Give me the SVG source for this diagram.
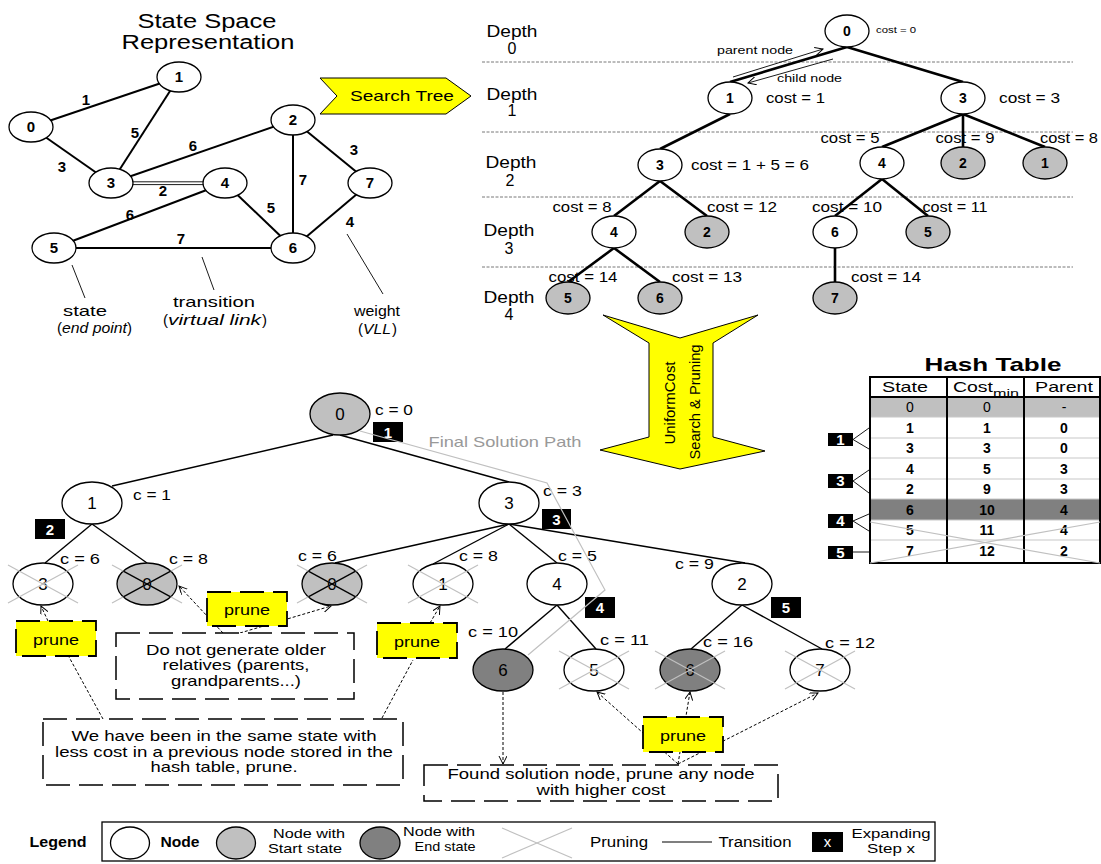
<svg xmlns="http://www.w3.org/2000/svg" width="1101" height="864" viewBox="0 0 1101 864">
<style>
text{font-family:"Liberation Sans",Arial,Helvetica,sans-serif;fill:#000}
.b{font-weight:bold}
.m{text-anchor:middle}
.i{font-style:italic}
.nw{fill:#fff;stroke:#000;stroke-width:1.3}
.ng{fill:#c0c0c0;stroke:#000;stroke-width:1.3}
.nd{fill:#808080;stroke:#000;stroke-width:1.3}
.e1{stroke:#000;stroke-width:2;fill:none}
.e2{stroke:#000;stroke-width:2.6;fill:none}
.e3{stroke:#000;stroke-width:1.4;fill:none}
.th{stroke:#000;stroke-width:0.9;fill:none}
.hd{stroke:#555;stroke-width:0.8;stroke-dasharray:3,1.5}
.box{fill:#fff;stroke:#000;stroke-width:1.5;stroke-dasharray:24,9}
.prune{fill:#ffff00;stroke:#000;stroke-width:1.8;stroke-dasharray:24,9}
.x{stroke:#c0c0c0;stroke-width:1.2}
.xk{stroke:#000;stroke-width:1.3}
.stxt{fill:#fff;font-weight:bold;font-size:15px;text-anchor:middle}
.dl{stroke:#000;stroke-width:1;stroke-dasharray:3,2;fill:none}
.yel{fill:#ffff00;stroke:#000;stroke-width:1}
</style>
<defs>
<marker id="oa" markerWidth="10" markerHeight="10" refX="8" refY="4" orient="auto" markerUnits="userSpaceOnUse">
<path d="M0,0 L8,4 L0,8" fill="none" stroke="#000" stroke-width="1"/>
</marker>
</defs>

<!-- ===== State space representation ===== -->
<text x="207" y="28" class="m" font-size="20" textLength="139" lengthAdjust="spacingAndGlyphs">State Space</text>
<text x="208" y="49" class="m" font-size="20" textLength="173" lengthAdjust="spacingAndGlyphs">Representation</text>

<g id="ss-edges">
<line x1="31" y1="127" x2="179" y2="77" class="e1"/>
<line x1="179" y1="77" x2="111" y2="183" class="e1"/>
<line x1="31" y1="127" x2="111" y2="183" class="e1"/>
<line x1="111" y1="183" x2="293" y2="120" class="e1"/>
<line x1="111" y1="181.8" x2="225" y2="181.8" class="th" stroke-width="1.3"/>
<line x1="111" y1="184.6" x2="225" y2="184.6" class="th" stroke-width="1.3"/>
<line x1="54" y1="248" x2="225" y2="183" class="e1"/>
<line x1="225" y1="183" x2="293" y2="248" class="e1"/>
<line x1="293" y1="120" x2="293" y2="248" class="e1"/>
<line x1="293" y1="120" x2="370" y2="183" class="e1"/>
<line x1="370" y1="183" x2="293" y2="248" class="e1"/>
<line x1="54" y1="248" x2="293" y2="248" class="e1"/>
<line x1="72" y1="265" x2="85" y2="298" class="th"/>
<line x1="202" y1="257" x2="214" y2="290" class="th"/>
<line x1="347" y1="234" x2="383" y2="294" class="th"/>
</g>
<g id="ss-weights" font-size="15">
<text x="86" y="105" class="m b">1</text>
<text x="135" y="138" class="m b">5</text>
<text x="62" y="172" class="m b">3</text>
<text x="193" y="151" class="m b">6</text>
<text x="163" y="196" class="m b">2</text>
<text x="130" y="220" class="m b">6</text>
<text x="271" y="213" class="m b">5</text>
<text x="303" y="185" class="m b">7</text>
<text x="354" y="155" class="m b">3</text>
<text x="350" y="227" class="m b">4</text>
<text x="181" y="244" class="m b">7</text>
</g>
<g id="ss-n0"><ellipse cx="31" cy="127" rx="22" ry="15" class="nw"/><text x="31" y="132" class="m b" font-size="15">0</text></g>
<g id="ss-n1"><ellipse cx="179" cy="77" rx="22" ry="15" class="nw"/><text x="179" y="82" class="m b" font-size="15">1</text></g>
<g id="ss-n2"><ellipse cx="293" cy="120" rx="22" ry="15" class="nw"/><text x="293" y="125" class="m b" font-size="15">2</text></g>
<g id="ss-n3"><ellipse cx="111" cy="183" rx="22" ry="15" class="nw"/><text x="111" y="188" class="m b" font-size="15">3</text></g>
<g id="ss-n4"><ellipse cx="225" cy="183" rx="22" ry="15" class="nw"/><text x="225" y="188" class="m b" font-size="15">4</text></g>
<g id="ss-n5"><ellipse cx="54" cy="248" rx="22" ry="15" class="nw"/><text x="54" y="253" class="m b" font-size="15">5</text></g>
<g id="ss-n6"><ellipse cx="293" cy="248" rx="22" ry="15" class="nw"/><text x="293" y="253" class="m b" font-size="15">6</text></g>
<g id="ss-n7"><ellipse cx="370" cy="183" rx="22" ry="15" class="nw"/><text x="370" y="188" class="m b" font-size="15">7</text></g>
<g id="ss-notes" font-size="15">
<text x="85" y="316" class="m" textLength="44" lengthAdjust="spacingAndGlyphs">state</text>
<text x="57" y="333">(</text><text x="62" y="333" class="i" textLength="65" lengthAdjust="spacingAndGlyphs">end point</text><text x="127" y="333">)</text>
<text x="214" y="307" class="m" textLength="82" lengthAdjust="spacingAndGlyphs">transition</text>
<text x="163" y="325">(</text><text x="168" y="325" class="i" textLength="93" lengthAdjust="spacingAndGlyphs">virtual link</text><text x="262" y="325">)</text>
<text x="377" y="316" class="m" textLength="46" lengthAdjust="spacingAndGlyphs">weight</text>
<text x="358" y="334">(</text><text x="363" y="334" class="i" textLength="28" lengthAdjust="spacingAndGlyphs">VLL</text><text x="392" y="334">)</text>
</g>

<!-- Search tree arrow -->
<g id="arrow-search">
<polygon points="320,78 446,78 471,96 446,114 320,114 337,96" class="yel"/>
<text x="402" y="101" class="m" font-size="15" textLength="104" lengthAdjust="spacingAndGlyphs">Search Tree</text>
</g>

<!-- ===== Search tree ===== -->
<g id="depth-lines">
<line x1="482" y1="62" x2="1073" y2="62" class="hd"/>
<line x1="482" y1="132" x2="1073" y2="132" class="hd"/>
<line x1="482" y1="197" x2="1073" y2="197" class="hd"/>
<line x1="482" y1="267" x2="1073" y2="267" class="hd"/>
</g>
<g id="depth-labels" font-size="16">
<text x="512" y="37" class="m" textLength="51" lengthAdjust="spacingAndGlyphs">Depth</text><text x="512" y="54" class="m">0</text>
<text x="512" y="100" class="m" textLength="51" lengthAdjust="spacingAndGlyphs">Depth</text><text x="512" y="116" class="m">1</text>
<text x="511" y="168" class="m" textLength="51" lengthAdjust="spacingAndGlyphs">Depth</text><text x="510" y="186" class="m">2</text>
<text x="509" y="236" class="m" textLength="51" lengthAdjust="spacingAndGlyphs">Depth</text><text x="509" y="254" class="m">3</text>
<text x="509" y="303" class="m" textLength="51" lengthAdjust="spacingAndGlyphs">Depth</text><text x="509" y="320" class="m">4</text>
</g>
<g id="tree-edges">
<line x1="847" y1="47" x2="730" y2="82" class="e2"/>
<line x1="847" y1="47" x2="963" y2="82" class="e2"/>
<line x1="730" y1="114" x2="660" y2="149" class="e2"/>
<line x1="963" y1="114" x2="882" y2="147" class="e2"/>
<line x1="963" y1="114" x2="963" y2="147" class="e2"/>
<line x1="963" y1="114" x2="1045" y2="147" class="e2"/>
<line x1="660" y1="181" x2="614" y2="216" class="e2"/>
<line x1="660" y1="181" x2="707" y2="216" class="e2"/>
<line x1="882" y1="179" x2="835" y2="216" class="e2"/>
<line x1="882" y1="179" x2="928" y2="216" class="e2"/>
<line x1="614" y1="248" x2="568" y2="282" class="e2"/>
<line x1="614" y1="248" x2="660" y2="282" class="e2"/>
<line x1="835" y1="248" x2="835" y2="282" class="e2"/>
<line x1="733" y1="77" x2="823" y2="49" class="th" marker-end="url(#oa)"/>
<line x1="833" y1="59" x2="748" y2="83" class="th" marker-end="url(#oa)"/>
</g>
<text x="717" y="54" font-size="11" textLength="76" lengthAdjust="spacingAndGlyphs">parent node</text>
<text x="777" y="82" font-size="11" textLength="65" lengthAdjust="spacingAndGlyphs">child node</text>

<g id="t-n0"><ellipse cx="847" cy="31" rx="22" ry="16" class="nw"/><text x="847" y="36" class="m b" font-size="14">0</text><text x="876" y="33" font-size="9" textLength="40" lengthAdjust="spacingAndGlyphs">cost = 0</text></g>
<g id="t-n1"><ellipse cx="730" cy="98" rx="22" ry="16" class="nw"/><text x="730" y="103" class="m b" font-size="14">1</text><text x="766" y="103" font-size="14" textLength="59" lengthAdjust="spacingAndGlyphs">cost = 1</text></g>
<g id="t-n3a"><ellipse cx="963" cy="98" rx="22" ry="16" class="nw"/><text x="963" y="103" class="m b" font-size="14">3</text><text x="999" y="103" font-size="14" textLength="61" lengthAdjust="spacingAndGlyphs">cost = 3</text></g>
<g id="t-n3b"><ellipse cx="660" cy="165" rx="22" ry="16" class="nw"/><text x="660" y="170" class="m b" font-size="14">3</text><text x="691" y="170" font-size="14" textLength="118" lengthAdjust="spacingAndGlyphs">cost = 1 + 5 = 6</text></g>
<g id="t-n4a"><ellipse cx="882" cy="163" rx="22" ry="16" class="nw"/><text x="882" y="168" class="m b" font-size="14">4</text><text x="850" y="143" class="m" font-size="14" textLength="59" lengthAdjust="spacingAndGlyphs">cost = 5</text></g>
<g id="t-n2a"><ellipse cx="963" cy="163" rx="22" ry="16" class="ng"/><text x="963" y="168" class="m b" font-size="14">2</text><text x="965" y="143" class="m" font-size="14" textLength="59" lengthAdjust="spacingAndGlyphs">cost = 9</text></g>
<g id="t-n1a"><ellipse cx="1045" cy="163" rx="22" ry="16" class="ng"/><text x="1045" y="168" class="m b" font-size="14">1</text><text x="1069" y="143" class="m" font-size="14" textLength="58" lengthAdjust="spacingAndGlyphs">cost = 8</text></g>
<g id="t-n4b"><ellipse cx="614" cy="232" rx="22" ry="16" class="nw"/><text x="614" y="237" class="m b" font-size="14">4</text><text x="582" y="212" class="m" font-size="14" textLength="59" lengthAdjust="spacingAndGlyphs">cost = 8</text></g>
<g id="t-n2b"><ellipse cx="707" cy="232" rx="22" ry="16" class="ng"/><text x="707" y="237" class="m b" font-size="14">2</text><text x="742" y="212" class="m" font-size="14" textLength="70" lengthAdjust="spacingAndGlyphs">cost = 12</text></g>
<g id="t-n6a"><ellipse cx="835" cy="232" rx="22" ry="16" class="nw"/><text x="835" y="237" class="m b" font-size="14">6</text><text x="847" y="212" class="m" font-size="14" textLength="70" lengthAdjust="spacingAndGlyphs">cost = 10</text></g>
<g id="t-n5a"><ellipse cx="928" cy="232" rx="22" ry="16" class="ng"/><text x="928" y="237" class="m b" font-size="14">5</text><text x="955" y="212" class="m" font-size="14" textLength="65" lengthAdjust="spacingAndGlyphs">cost = 11</text></g>
<g id="t-n5b"><ellipse cx="568" cy="298" rx="22" ry="16" class="ng"/><text x="568" y="303" class="m b" font-size="14">5</text><text x="583" y="282" class="m" font-size="14" textLength="69" lengthAdjust="spacingAndGlyphs">cost = 14</text></g>
<g id="t-n6b"><ellipse cx="660" cy="298" rx="22" ry="16" class="ng"/><text x="660" y="303" class="m b" font-size="14">6</text><text x="707" y="282" class="m" font-size="14" textLength="70" lengthAdjust="spacingAndGlyphs">cost = 13</text></g>
<g id="t-n7"><ellipse cx="835" cy="298" rx="22" ry="16" class="ng"/><text x="835" y="303" class="m b" font-size="14">7</text><text x="886" y="282" class="m" font-size="14" textLength="70" lengthAdjust="spacingAndGlyphs">cost = 14</text></g>

<!-- Big down arrow -->
<g id="arrow-ucs">
<polygon points="603,315 680,338 758,315 713,343 713,437 765,451 680,469 600,450 649,437 649,343" class="yel"/>
<text transform="translate(675,403) rotate(-90)" class="m" font-size="14" textLength="83" lengthAdjust="spacingAndGlyphs">UniformCost</text>
<text transform="translate(700,402) rotate(-90)" class="m" font-size="14" textLength="115" lengthAdjust="spacingAndGlyphs">Search &amp; Pruning</text>
</g>

<!-- ===== Hash table ===== -->
<g id="hash-table">
<text x="993" y="371" class="m b" font-size="19" textLength="137" lengthAdjust="spacingAndGlyphs">Hash Table</text>
<rect x="870" y="397" width="230" height="20" fill="#c0c0c0"/>
<rect x="870" y="499" width="230" height="21" fill="#808080"/>
<g stroke="#c8c8c8" stroke-width="1.2">
<line x1="870" y1="417" x2="1100" y2="417"/>
<line x1="870" y1="438" x2="1100" y2="438"/>
<line x1="870" y1="458" x2="1100" y2="458"/>
<line x1="870" y1="479" x2="1100" y2="479"/>
<line x1="870" y1="499" x2="1100" y2="499"/>
<line x1="870" y1="520" x2="1100" y2="520"/>
<line x1="870" y1="540" x2="1100" y2="540"/>
</g>
<line x1="870" y1="397" x2="1100" y2="397" stroke="#000" stroke-width="2"/>
<line x1="947" y1="377" x2="947" y2="563" stroke="#000" stroke-width="2"/>
<line x1="1024" y1="377" x2="1024" y2="563" stroke="#000" stroke-width="2"/>
<rect x="870" y="377" width="230" height="186" fill="none" stroke="#000" stroke-width="2"/>
<text x="905" y="392" class="m" font-size="15" textLength="46" lengthAdjust="spacingAndGlyphs">State</text>
<text x="953" y="392" font-size="15" textLength="40" lengthAdjust="spacingAndGlyphs">Cost</text><text x="993" y="397" font-size="11" textLength="26" lengthAdjust="spacingAndGlyphs">min</text>
<text x="1064" y="392" class="m" font-size="15" textLength="58" lengthAdjust="spacingAndGlyphs">Parent</text>
<g font-size="14">
<text x="910" y="412" class="m">0</text><text x="987" y="412" class="m">0</text><text x="1064" y="412" class="m">-</text>
</g>
<g font-size="14">
<text x="910" y="433" class="m b">1</text><text x="987" y="433" class="m b">1</text><text x="1064" y="433" class="m b">0</text>
<text x="910" y="453" class="m b">3</text><text x="987" y="453" class="m b">3</text><text x="1064" y="453" class="m b">0</text>
<text x="910" y="474" class="m b">4</text><text x="987" y="474" class="m b">5</text><text x="1064" y="474" class="m b">3</text>
<text x="910" y="494" class="m b">2</text><text x="987" y="494" class="m b">9</text><text x="1064" y="494" class="m b">3</text>
<text x="910" y="515" class="m b">6</text><text x="987" y="515" class="m b">10</text><text x="1064" y="515" class="m b">4</text>
<text x="910" y="535" class="m b">5</text><text x="987" y="535" class="m b">11</text><text x="1064" y="535" class="m b">4</text>
<text x="910" y="556" class="m b">7</text><text x="987" y="556" class="m b">12</text><text x="1064" y="556" class="m b">2</text>
</g>
<line x1="870" y1="522" x2="1100" y2="563" class="x"/>
<line x1="870" y1="563" x2="1100" y2="522" class="x"/>
</g>
<g id="hash-steps">
<rect x="828" y="433" width="25" height="13"/><text x="840.5" y="445" class="stxt" font-size="13">1</text>
<polyline points="869,428 853,439.5 869,449" class="th" stroke-width="1.2"/>
<rect x="828" y="474" width="25" height="14"/><text x="840.5" y="486" class="stxt" font-size="13">3</text>
<polyline points="869,470 853,481 869,493" class="th" stroke-width="1.2"/>
<rect x="828" y="514" width="25" height="14"/><text x="840.5" y="526" class="stxt" font-size="13">4</text>
<polyline points="869,514 853,521 869,531" class="th" stroke-width="1.2"/>
<rect x="828" y="546" width="25" height="13"/><text x="840.5" y="558" class="stxt" font-size="13">5</text>
<line x1="853" y1="552" x2="869" y2="552" class="th" stroke-width="1.2"/>
</g>

<!-- ===== Bottom tree ===== -->
<g id="b-edges">
<line x1="333" y1="435" x2="112" y2="486" class="e3"/>
<line x1="340" y1="435" x2="509" y2="482" class="e3"/>
<line x1="92" y1="524" x2="45" y2="563" class="e3"/>
<line x1="92" y1="524" x2="147" y2="563" class="e3"/>
<line x1="509" y1="524" x2="335" y2="563" class="e3"/>
<line x1="509" y1="524" x2="433" y2="564" class="e3"/>
<line x1="509" y1="524" x2="557" y2="563" class="e3"/>
<line x1="509" y1="524" x2="745" y2="563" class="e3"/>
<line x1="557" y1="605" x2="505" y2="649" class="e3"/>
<line x1="557" y1="605" x2="596" y2="649" class="e3"/>
<line x1="742" y1="605" x2="691" y2="649" class="e3"/>
<line x1="742" y1="605" x2="822" y2="649" class="e3"/>
</g>

<g id="dashed-links">
<line x1="48" y1="621" x2="41" y2="606" class="dl" marker-end="url(#oa)"/>
<line x1="103" y1="719" x2="69" y2="657" class="dl"/>
<line x1="382" y1="718" x2="413" y2="660" class="dl"/>
<line x1="430" y1="623" x2="440" y2="606" class="dl" marker-end="url(#oa)"/>
<line x1="223" y1="633" x2="179" y2="586" class="dl" marker-end="url(#oa)"/>
<line x1="240" y1="633" x2="331" y2="606" class="dl" marker-end="url(#oa)"/>
<line x1="503" y1="692" x2="503" y2="764" class="dl" marker-end="url(#oa)"/>
<line x1="678" y1="764" x2="597" y2="692" class="dl" marker-end="url(#oa)"/>
<line x1="678" y1="764" x2="690" y2="692" class="dl" marker-end="url(#oa)"/>
<line x1="678" y1="764" x2="818" y2="693" class="dl" marker-end="url(#oa)"/>
</g>

<g id="b-n0"><ellipse cx="340" cy="414" rx="30" ry="21" class="ng"/><text x="340" y="420" class="m" font-size="17">0</text><text x="375" y="415" font-size="15" textLength="38" lengthAdjust="spacingAndGlyphs">c = 0</text></g>
<g id="b-n1"><ellipse cx="92" cy="503" rx="30" ry="21" class="nw"/><text x="92" y="509" class="m" font-size="17">1</text><text x="133" y="500" font-size="15" textLength="38" lengthAdjust="spacingAndGlyphs">c = 1</text></g>
<g id="b-n3"><ellipse cx="509" cy="503" rx="30" ry="21" class="nw"/><text x="509" y="509" class="m" font-size="17">3</text><text x="543" y="496" font-size="15" textLength="39" lengthAdjust="spacingAndGlyphs">c = 3</text></g>
<g id="b-n3x"><ellipse cx="43" cy="584" rx="30" ry="21" class="nw"/><text x="43" y="590" class="m" font-size="17">3</text>
<line x1="8" y1="565" x2="78" y2="603" class="x"/><line x1="8" y1="603" x2="78" y2="565" class="x"/>
<text x="60" y="564" font-size="15" textLength="40" lengthAdjust="spacingAndGlyphs">c = 6</text></g>
<g id="b-n0x1"><ellipse cx="147" cy="584" rx="30" ry="21" class="ng"/><text x="147" y="590" class="m" font-size="17">0</text>
<line x1="112" y1="565" x2="182" y2="603" class="x"/><line x1="112" y1="603" x2="182" y2="565" class="x"/>
<line x1="123.3" y1="571.1" x2="170.7" y2="596.9" class="xk"/><line x1="123.3" y1="596.9" x2="170.7" y2="571.1" class="xk"/>
<text x="169" y="564" font-size="15" textLength="39" lengthAdjust="spacingAndGlyphs">c = 8</text></g>
<g id="b-n0x2"><ellipse cx="332" cy="584" rx="30" ry="21" class="ng"/><text x="332" y="590" class="m" font-size="17">0</text>
<line x1="297" y1="565" x2="367" y2="603" class="x"/><line x1="297" y1="603" x2="367" y2="565" class="x"/>
<line x1="308.3" y1="571.1" x2="355.7" y2="596.9" class="xk"/><line x1="308.3" y1="596.9" x2="355.7" y2="571.1" class="xk"/>
<text x="298" y="561" font-size="15" textLength="39" lengthAdjust="spacingAndGlyphs">c = 6</text></g>
<g id="b-n1x"><ellipse cx="443" cy="584" rx="30" ry="21" class="nw"/><text x="443" y="590" class="m" font-size="17">1</text>
<line x1="408" y1="565" x2="478" y2="603" class="x"/><line x1="408" y1="603" x2="478" y2="565" class="x"/>
<text x="459" y="561" font-size="15" textLength="39" lengthAdjust="spacingAndGlyphs">c = 8</text></g>
<g id="b-n4"><ellipse cx="557" cy="584" rx="30" ry="21" class="nw"/><text x="557" y="590" class="m" font-size="17">4</text><text x="558" y="561" font-size="15" textLength="39" lengthAdjust="spacingAndGlyphs">c = 5</text></g>
<g id="b-n2"><ellipse cx="742" cy="584" rx="30" ry="21" class="nw"/><text x="742" y="590" class="m" font-size="17">2</text><text x="675" y="569" font-size="15" textLength="39" lengthAdjust="spacingAndGlyphs">c = 9</text></g>
<g id="b-n6"><ellipse cx="503" cy="670" rx="30" ry="21" class="nd"/><text x="503" y="676" class="m" font-size="17">6</text><text x="468" y="637" font-size="15" textLength="50" lengthAdjust="spacingAndGlyphs">c = 10</text></g>
<g id="b-n5x"><ellipse cx="594" cy="670" rx="30" ry="21" class="nw"/><text x="594" y="676" class="m" font-size="17">5</text>
<line x1="559" y1="651" x2="629" y2="689" class="x"/><line x1="559" y1="689" x2="629" y2="651" class="x"/>
<text x="600" y="645" font-size="15" textLength="49" lengthAdjust="spacingAndGlyphs">c = 11</text></g>
<g id="b-n6x"><ellipse cx="690" cy="670" rx="30" ry="21" class="nd"/><text x="690" y="676" class="m" font-size="17">6</text>
<line x1="655" y1="651" x2="725" y2="689" class="x"/><line x1="655" y1="689" x2="725" y2="651" class="x"/>
<text x="703" y="647" font-size="15" textLength="50" lengthAdjust="spacingAndGlyphs">c = 16</text></g>
<g id="b-n7x"><ellipse cx="820" cy="670" rx="30" ry="21" class="nw"/><text x="820" y="676" class="m" font-size="17">7</text>
<line x1="785" y1="651" x2="855" y2="689" class="x"/><line x1="785" y1="689" x2="855" y2="651" class="x"/>
<text x="825" y="648" font-size="15" textLength="50" lengthAdjust="spacingAndGlyphs">c = 12</text></g>

<g id="steps">
<rect x="373" y="422" width="30" height="20"/><text x="388" y="438" class="stxt">1</text>
<rect x="35" y="519" width="30" height="20"/><text x="50" y="535" class="stxt">2</text>
<rect x="542" y="509" width="29" height="20"/><text x="556.5" y="525" class="stxt">3</text>
<rect x="585" y="597" width="30" height="21"/><text x="600" y="613" class="stxt">4</text>
<rect x="771" y="597" width="30" height="21"/><text x="786" y="613" class="stxt">5</text>
</g>

<g id="solution-path">
<polyline points="360,431 547,483 605,590 528,655" fill="none" stroke="#c0c0c0" stroke-width="1.2"/>
<text x="505" y="447" class="m" font-size="15" style="fill:#999" textLength="153" lengthAdjust="spacingAndGlyphs">Final Solution Path</text>
</g>

<g id="prune1"><rect x="16" y="621" width="80" height="35" class="prune"/><text x="56" y="645" class="m" font-size="15" textLength="46" lengthAdjust="spacingAndGlyphs">prune</text></g>
<g id="prune2"><rect x="207" y="592" width="80" height="34" class="prune"/><text x="247" y="615" class="m" font-size="15" textLength="46" lengthAdjust="spacingAndGlyphs">prune</text></g>
<g id="prune3"><rect x="377" y="623" width="80" height="35" class="prune"/><text x="417" y="647" class="m" font-size="15" textLength="46" lengthAdjust="spacingAndGlyphs">prune</text></g>
<g id="prune4"><rect x="643" y="717" width="80" height="35" class="prune"/><text x="683" y="741" class="m" font-size="15" textLength="46" lengthAdjust="spacingAndGlyphs">prune</text></g>

<g id="note-relatives"><rect x="116" y="633" width="238" height="66" class="box"/>
<text x="236" y="655" class="m" font-size="15" textLength="180" lengthAdjust="spacingAndGlyphs">Do not generate older</text>
<text x="236" y="670" class="m" font-size="15" textLength="147" lengthAdjust="spacingAndGlyphs">relatives (parents,</text>
<text x="236" y="686" class="m" font-size="15" textLength="130" lengthAdjust="spacingAndGlyphs">grandparents...)</text>
</g>
<g id="note-hash"><rect x="43" y="719" width="360" height="66" class="box"/>
<text x="224" y="741" class="m" font-size="15" textLength="305" lengthAdjust="spacingAndGlyphs">We have been in the same state with</text>
<text x="224" y="757" class="m" font-size="15" textLength="338" lengthAdjust="spacingAndGlyphs">less cost in a previous node stored in the</text>
<text x="224" y="772" class="m" font-size="15" textLength="147" lengthAdjust="spacingAndGlyphs">hash table, prune.</text>
</g>
<g id="note-found"><rect x="424" y="765" width="354" height="36" class="box"/>
<text x="601" y="779" class="m" font-size="15" textLength="307" lengthAdjust="spacingAndGlyphs">Found solution node, prune any node</text>
<text x="601" y="795" class="m" font-size="15" textLength="129" lengthAdjust="spacingAndGlyphs">with higher cost</text>
</g>

<!-- ===== Legend ===== -->
<g id="legend">
<text x="58" y="847" class="m b" font-size="15" textLength="57" lengthAdjust="spacingAndGlyphs">Legend</text>
<rect x="102" y="822" width="833" height="39" fill="#fff" stroke="#000" stroke-width="1.3"/>
<ellipse cx="130" cy="843" rx="19.5" ry="16" class="nw"/>
<text x="180" y="847" class="m b" font-size="14" textLength="39" lengthAdjust="spacingAndGlyphs">Node</text>
<ellipse cx="236" cy="843" rx="19.5" ry="16" class="ng"/>
<text x="309" y="838" class="m" font-size="13" textLength="72" lengthAdjust="spacingAndGlyphs">Node with</text>
<text x="305" y="853" class="m" font-size="13" textLength="74" lengthAdjust="spacingAndGlyphs">Start state</text>
<ellipse cx="380" cy="843" rx="20" ry="16" class="nd"/>
<text x="439" y="836" class="m" font-size="13" textLength="72" lengthAdjust="spacingAndGlyphs">Node with</text>
<text x="445" y="851" class="m" font-size="13" textLength="61" lengthAdjust="spacingAndGlyphs">End state</text>
<line x1="502" y1="828" x2="572" y2="858" class="x"/><line x1="502" y1="858" x2="572" y2="828" class="x"/>
<text x="619" y="847" class="m" font-size="14" textLength="58" lengthAdjust="spacingAndGlyphs">Pruning</text>
<line x1="662" y1="842" x2="712" y2="842" stroke="#000" stroke-width="1.2"/>
<text x="755" y="847" class="m" font-size="14" textLength="73" lengthAdjust="spacingAndGlyphs">Transition</text>
<rect x="812" y="832" width="31" height="20"/><text x="827.5" y="847" class="stxt" font-size="13" style="font-weight:normal">x</text>
<text x="891" y="838" class="m" font-size="13" textLength="79" lengthAdjust="spacingAndGlyphs">Expanding</text>
<text x="891" y="853" class="m" font-size="13" textLength="48" lengthAdjust="spacingAndGlyphs">Step x</text>
</g>
</svg>
